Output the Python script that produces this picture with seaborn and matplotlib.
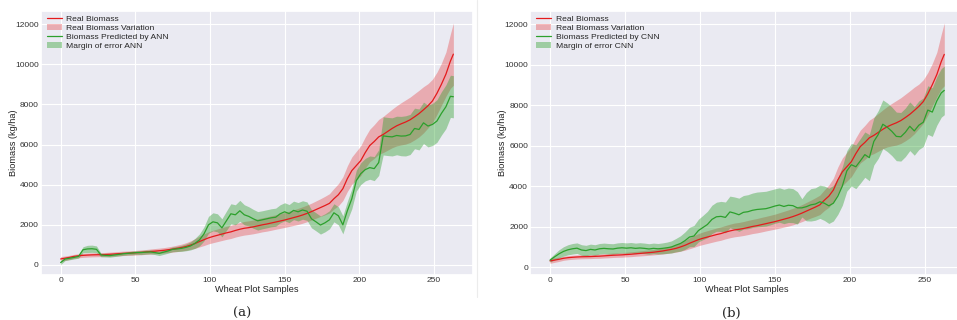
import numpy as np
import pandas as pd
import matplotlib
matplotlib.use("Agg")
import matplotlib.pyplot as plt
from matplotlib.lines import Line2D
import seaborn as sns

# ---- data (every 3rd sample + last) ----
samples = list(range(0, 262, 3)) + [263]

real = [300, 340, 380, 430, 460, 480, 495, 505, 510, 515,
        525, 535, 550, 565, 580, 590, 600, 615, 630, 650,
        670, 690, 710, 730, 760, 790, 830, 870, 920, 990,
        1070, 1170, 1260, 1350, 1420, 1480, 1540, 1600, 1650, 1720,
        1780, 1830, 1860, 1900, 1950, 2000, 2040, 2090, 2140, 2190,
        2240, 2300, 2360, 2420, 2490, 2570, 2660, 2760, 2860, 2960,
        3070, 3300, 3500, 3800, 4300, 4700, 4950, 5200, 5600, 5950,
        6150, 6380, 6500, 6650, 6800, 6930, 7030, 7120, 7230, 7380,
        7540, 7730, 7930, 8170, 8550, 9000, 9500, 10150,
        10500]

real_err = [120, 110, 105, 100, 100, 100, 100, 100, 100, 100,
            100, 105, 105, 110, 110, 110, 115, 115, 120, 120,
            125, 130, 130, 135, 140, 150, 160, 170, 190, 210,
            240, 270, 290, 300, 310, 315, 320, 325, 330, 330,
            335, 340, 340, 345, 350, 350, 355, 360, 360, 365,
            370, 380, 390, 400, 410, 415, 420, 430, 440, 460,
            480, 510, 550, 590, 640, 680, 710, 740, 780, 810,
            840, 870, 900, 930, 960, 1000, 1050, 1100, 1130, 1150,
            1160, 1150, 1100, 1080, 1050, 1050, 1100, 1350,
            1550]

ann = [120, 300, 340, 380, 430, 760, 800, 810, 780, 500,
       480, 470, 500, 530, 560, 580, 600, 620, 620, 640,
       650, 620, 580, 640, 700, 780, 800, 830, 880, 950,
       1080, 1250, 1550, 2000, 2150, 2100, 1850, 2200, 2550, 2500,
       2700, 2500, 2420, 2300, 2200, 2250, 2300, 2350, 2380, 2550,
       2650, 2560, 2720, 2650, 2740, 2680, 2300, 2150, 1990, 2100,
       2250, 2600, 2450, 2000, 2700, 3300, 4200, 4550, 4750, 4850,
       4800, 5100, 6430, 6400, 6380, 6450, 6420, 6430, 6500, 6800,
       6750, 7080, 6920, 7000, 7170, 7550, 7880, 8400,
       8380]

ann_err = [100, 80, 80, 80, 90, 150, 180, 180, 170, 90,
           80, 80, 80, 80, 80, 80, 90, 90, 100, 100,
           100, 100, 110, 110, 110, 120, 130, 150, 170, 200,
           250, 300, 350, 420, 450, 450, 450, 480, 500, 500,
           520, 500, 480, 470, 460, 450, 450, 450, 450, 450,
           450, 450, 460, 460, 460, 460, 450, 450, 450, 450,
           450, 450, 450, 450, 470, 500, 520, 540, 560, 580,
           600, 640, 950, 950, 950, 960, 980, 1000, 1000, 1010,
           1020, 1030, 1040, 1050, 1060, 1080, 1090, 1050,
           1050]

cnn = [340, 500, 650, 770, 850, 900, 930, 840, 810, 870,
       840, 900, 920, 900, 890, 930, 950, 930, 950, 920,
       940, 920, 890, 920, 900, 920, 950, 990, 1080, 1160,
       1300, 1480, 1530, 1800, 1950, 2100, 2350, 2480, 2500, 2450,
       2720, 2660, 2580, 2700, 2730, 2800, 2840, 2860, 2880, 2940,
       3010, 3060, 2990, 3050, 3030, 2920, 2920, 2980, 3070, 3110,
       3220, 3150, 3020, 3150, 3500, 4000, 4750, 5050, 4950, 5240,
       5550, 5400, 6200, 6550, 7050, 6900, 6700, 6450, 6430, 6650,
       6950, 6720, 7000, 7150, 7750, 7650, 8200, 8600,
       8720]

cnn_err = [100, 150, 200, 230, 250, 260, 260, 260, 260, 260,
           260, 260, 260, 260, 260, 260, 260, 260, 260, 260,
           260, 260, 260, 260, 260, 270, 280, 300, 330, 380,
           430, 480, 520, 560, 600, 650, 700, 720, 740, 760,
           780, 800, 820, 830, 840, 850, 860, 860, 860, 860,
           850, 850, 850, 850, 840, 800, 450, 700, 800, 800,
           820, 850, 870, 880, 900, 950, 1000, 1050, 1080, 1100,
           1120, 1140, 1160, 1180, 1200, 1200, 1200, 1200, 1200, 1200,
           1200, 1200, 1200, 1200, 1200, 1200, 1200, 1200,
           1200]

model_names = ["ANN", "CNN"]
captions = ["(a)", "(b)"]
xticks = [0, 50, 100, 150, 200, 250]
yticks = [0, 2000, 4000, 6000, 8000, 10000, 12000]

# ---- style ----
sns.set_theme(style="darkgrid")
plt.rcParams["font.family"] = ["Liberation Sans", "DejaVu Sans"]

RED = "#e41a1c"
GREEN = "#2ca02c"

W, H = 957, 320
fig = plt.figure(figsize=(W / 100, H / 100), dpi=100)
fig.patch.set_facecolor("white")

# faint separator between the two panel images
fig.add_artist(Line2D([476.5 / W, 476.5 / W], [1 - 297 / H, 1.0],
                      transform=fig.transFigure, color="#ececec", lw=0.8))

# axes placement in pixels: (left, right, top, bottom)
boxes = [(41, 473, 11, 275), (530.3, 964, 11, 275)]
ylims = [(-498, 12649), (-395, 12642)]
ylabel_right = [18, 507]
caption_x = [242, 731]

df = pd.DataFrame({"sample": samples, "real": real, "real_err": real_err,
                   "ANN": ann, "ANN_err": ann_err, "CNN": cnn, "CNN_err": cnn_err})

for i, (name, cap) in enumerate(zip(model_names, captions)):
    l, r, t, b = boxes[i]
    ax = fig.add_axes([l / W, 1 - b / H, (r - l) / W, (b - t) / H])
    x = df["sample"].to_numpy()
    yr = df["real"].to_numpy()
    er = df["real_err"].to_numpy()
    yp = df[name].to_numpy()
    ep = df[name + "_err"].to_numpy()

    sns.lineplot(data=df, x="sample", y="real", ax=ax, color=RED, lw=0.9,
                 label="Real Biomass")
    ax.fill_between(x, yr - er, yr + er, color=RED, alpha=0.3, lw=0,
                    label="Real Biomass Variation")
    sns.lineplot(data=df, x="sample", y=name, ax=ax, color=GREEN, lw=0.9,
                 label=f"Biomass Predicted by {name}")
    ax.fill_between(x, yp - ep, yp + ep, color=GREEN, alpha=0.4, lw=0,
                    label=f"Margin of error {name}")

    ax.set_xlim(-13.15, 276.15)
    ax.set_ylim(*ylims[i])
    ax.set_xticks(xticks)
    ax.set_yticks(yticks)
    ax.tick_params(labelsize=6, pad=1.6, length=0, colors="#333333")
    ax.set_xlabel("Wheat Plot Samples", fontsize=6.6, color="#222222")
    ax.set_ylabel("Biomass (kg/ha)", fontsize=6.6, color="#222222")
    ax.xaxis.set_label_coords(0.5, -(285.5 - b) / (b - t))
    ax.yaxis.set_label_coords((ylabel_right[i] - l) / (r - l), 0.5)
    ax.grid(color="white", lw=0.8)
    ax.legend(loc="upper left", bbox_to_anchor=(0.0, 1.008), fontsize=6.1,
              frameon=False, handlelength=1.8, handleheight=0.7,
              labelspacing=0.15, borderaxespad=0.3, borderpad=0.4,
              handletextpad=0.5)
    fig.text(caption_x[i] / W, 1 - 313 / H, cap, ha="center",
             va="center", fontsize=9.5, family="DejaVu Serif")

fig.savefig("out.png", dpi=100, facecolor="white")
